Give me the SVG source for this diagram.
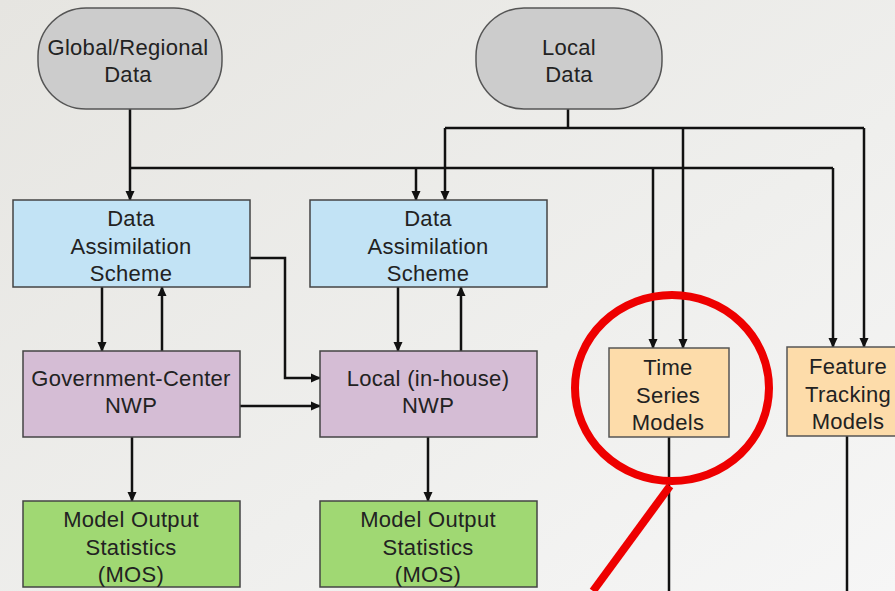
<svg xmlns="http://www.w3.org/2000/svg" width="895" height="591" viewBox="0 0 895 591">
<defs>
<linearGradient id="bg" x1="0" y1="0" x2="1" y2="1">
<stop offset="0" stop-color="#e6e5e1"/>
<stop offset="0.6" stop-color="#efefed"/>
<stop offset="1" stop-color="#f6f6f6"/>
</linearGradient>
<marker id="ah" markerWidth="10" markerHeight="10" refX="9" refY="5" orient="auto" markerUnits="userSpaceOnUse">
<path d="M0,0.5 L10,5 L0,9.5 Z" fill="#111"/>
</marker>
<style>
.t{font-family:"Liberation Sans",Arial,sans-serif;font-size:22px;letter-spacing:0.3px;fill:#222;text-anchor:middle}
.gray{fill:#cccccc;stroke:#555;stroke-width:1.5}
.blue{fill:#c2e3f5;stroke:#444;stroke-width:1.5}
.purple{fill:#d5bdd5;stroke:#444;stroke-width:1.5}
.green{fill:#a0d873;stroke:#444;stroke-width:1.5}
.orange{fill:#fddcaa;stroke:#555;stroke-width:1.5}
.c{fill:none;stroke:#111;stroke-width:2.5}
.a{marker-end:url(#ah)}
</style>
</defs>
<rect width="895" height="591" fill="url(#bg)"/>
<g id="connectors">
<path class="c a" d="M130,109 V200"/>
<path class="c" d="M130,168 H833"/>
<path class="c a" d="M416,168 V200"/>
<path class="c a" d="M653,168 V348"/>
<path class="c a" d="M833,168 V347"/>
<path class="c" d="M568,109 V128 M445,128 H864"/>
<path class="c a" d="M445,128 V200"/>
<path class="c a" d="M683,128 V348"/>
<path class="c a" d="M864,128 V347"/>
<path class="c a" d="M102,287 V351"/>
<path class="c a" d="M162,351 V287"/>
<path class="c a" d="M398,287 V351"/>
<path class="c a" d="M461,351 V287"/>
<path class="c a" d="M250,258 H285 V378 H320"/>
<path class="c a" d="M240,406 H320"/>
<path class="c a" d="M132,437 V501"/>
<path class="c a" d="M428,437 V501"/>
<path class="c" d="M669,437 V591"/>
<path class="c" d="M847,436 V591"/>
</g>
<g id="global-data">
<rect class="gray" x="38" y="8" width="184" height="101" rx="48" ry="48"/>
<text class="t" x="128" y="55">Global/Regional</text>
<text class="t" x="128" y="82">Data</text>
</g>
<g id="local-data">
<rect class="gray" x="476" y="8" width="186" height="101" rx="48" ry="48"/>
<text class="t" x="569" y="55">Local</text>
<text class="t" x="569" y="82">Data</text>
</g>
<g id="da1">
<rect class="blue" x="13" y="200" width="237" height="87"/>
<text class="t" x="131" y="226">Data</text>
<text class="t" x="131" y="254">Assimilation</text>
<text class="t" x="131" y="281">Scheme</text>
</g>
<g id="da2">
<rect class="blue" x="310" y="200" width="237" height="87"/>
<text class="t" x="428" y="226">Data</text>
<text class="t" x="428" y="254">Assimilation</text>
<text class="t" x="428" y="281">Scheme</text>
</g>
<g id="gov-nwp">
<rect class="purple" x="23" y="351" width="217" height="86"/>
<text class="t" x="131" y="386">Government-Center</text>
<text class="t" x="131" y="413">NWP</text>
</g>
<g id="local-nwp">
<rect class="purple" x="320" y="351" width="217" height="86"/>
<text class="t" x="428" y="386">Local (in-house)</text>
<text class="t" x="428" y="413">NWP</text>
</g>
<g id="mos1">
<rect class="green" x="23" y="501" width="217" height="86"/>
<text class="t" x="131" y="527">Model Output</text>
<text class="t" x="131" y="555">Statistics</text>
<text class="t" x="131" y="582">(MOS)</text>
</g>
<g id="mos2">
<rect class="green" x="320" y="501" width="217" height="86"/>
<text class="t" x="428" y="527">Model Output</text>
<text class="t" x="428" y="555">Statistics</text>
<text class="t" x="428" y="582">(MOS)</text>
</g>
<g id="time-series">
<rect class="orange" x="609" y="348" width="120" height="89"/>
<text class="t" x="668" y="375">Time</text>
<text class="t" x="668" y="403">Series</text>
<text class="t" x="668" y="430">Models</text>
</g>
<g id="feature-tracking">
<rect class="orange" x="787" y="347" width="120" height="89"/>
<text class="t" x="848" y="374">Feature</text>
<text class="t" x="848" y="402">Tracking</text>
<text class="t" x="848" y="429">Models</text>
</g>
<g id="highlight">
<ellipse cx="672" cy="388" rx="97" ry="93" fill="none" stroke="#ee0000" stroke-width="8"/>
<path d="M670,486 L593,591" fill="none" stroke="#ee0000" stroke-width="8"/>
</g>
</svg>
